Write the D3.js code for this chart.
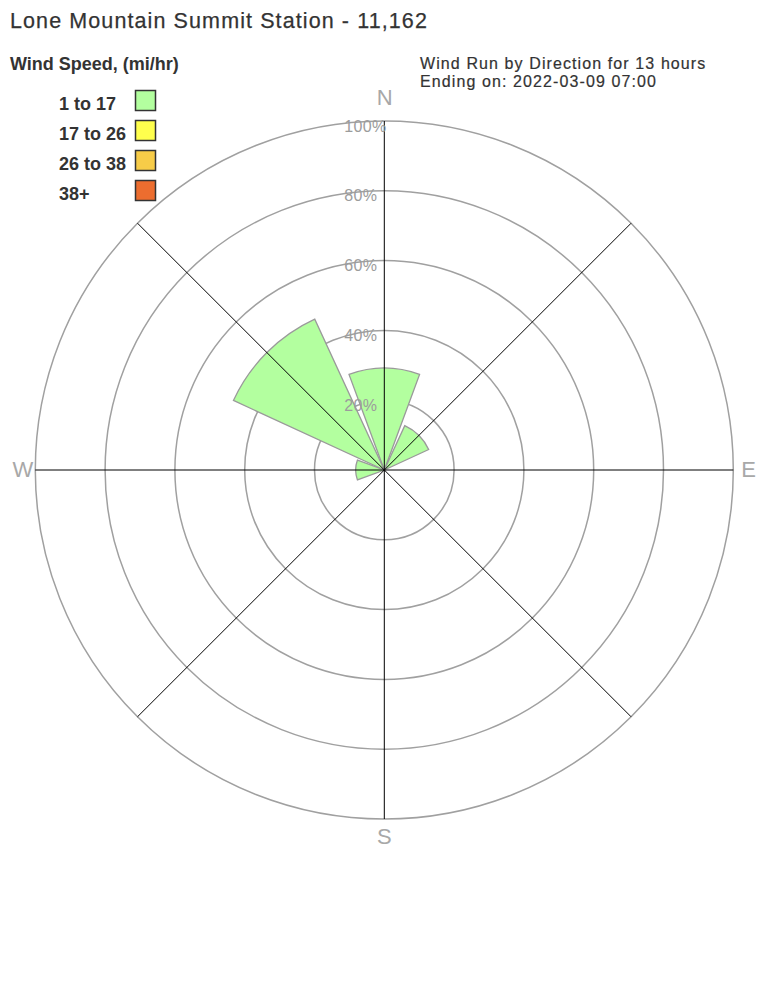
<!DOCTYPE html>
<html><head><meta charset="utf-8">
<script src="https://cdn.jsdelivr.net/npm/d3@7"></script>
<style>body{margin:0;background:#fff}svg{display:block}text{font-family:"Liberation Sans",Arial,sans-serif}</style>
</head><body>
<svg id="c" width="768" height="1008"></svg>
<script>
const directions = ["N","NE","E","SE","S","SW","W","NW"];
const speedBins = ["1 to 17","17 to 26","26 to 38","38+"];
const binColors = ["#b3ff9f","#ffff4d","#f7cc48","#ec6d2f"];
const bin1 = [29.2,14.0,0,0,0,0,8.2,47.6];
const bin2 = [0,0,0,0,0,0,0,0];
const bin3 = [0,0,0,0,0,0,0,0];
const bin4 = [0,0,0,0,0,0,0,0];
const ringTicks = [20,40,60,80,100];
const ringLabels = ["20%","40%","60%","80%","100%"];
const compass = ["N","E","S","W"];

const svg = d3.select("#c");
const cx = 384.3, cy = 470, R = 349;
const r = d3.scaleLinear().domain([0,100]).range([0,R]);
const step = 2*Math.PI/directions.length;
const halfW = step*0.45;

const g = svg.append("g").attr("transform",`translate(${cx},${cy})`);

// rings
g.selectAll("circle.ring").data(ringTicks).join("circle")
  .attr("r",d=>r(d)).attr("fill","none").attr("stroke","#a0a0a0").attr("stroke-width",1.5);

// petals stacked
const series = [bin1,bin2,bin3,bin4];
const arc = d3.arc();
directions.forEach((dir,i)=>{
  let base = 0;
  const a = i*step;
  series.forEach((s,k)=>{
    const v = s[i];
    if(v>0){
      g.append("path").attr("d",arc({innerRadius:r(base),outerRadius:r(base+v),startAngle:a-halfW,endAngle:a+halfW}))
        .attr("fill",binColors[k]).attr("stroke","#9a9a9a").attr("stroke-width",1.3);
    }
    base += v;
  });
});

// spokes
directions.forEach((d,i)=>{
  const a = i*step;
  g.append("line").attr("x1",0).attr("y1",0)
   .attr("x2",R*Math.sin(a)).attr("y2",-R*Math.cos(a))
   .attr("stroke","#000").attr("stroke-width",1);
});

// ring labels
g.selectAll("text.rl").data(ringTicks).join("text")
  .attr("x",-40).attr("y",d=>-r(d)+10.5)
  .attr("font-size",16).attr("letter-spacing",0.3).attr("fill","#9c9c9c").text((d,i)=>ringLabels[i]);

// compass labels
const cpos = {N:[0.4,-365,"middle"],E:[357,7,"start"],S:[0,374,"middle"],W:[-351,7,"end"]};
compass.forEach(c=>{
  g.append("text").attr("x",cpos[c][0]).attr("y",cpos[c][1]).attr("text-anchor",cpos[c][2])
   .attr("font-size",22).attr("fill","#a8a8a8").text(c);
});

// title
svg.append("text").attr("x",10).attr("y",28).attr("font-size",21.5).attr("letter-spacing",1.1)
  .attr("fill","#333").attr("stroke","#333").attr("stroke-width",0.25).text("Lone Mountain Summit Station - 11,162");
svg.append("text").attr("x",10).attr("y",70).attr("font-size",18).attr("font-weight","bold")
  .attr("fill","#333").text("Wind Speed, (mi/hr)");
svg.append("text").attr("x",420).attr("y",69).attr("font-size",16).attr("letter-spacing",1.1)
  .attr("fill","#333").attr("stroke","#333").attr("stroke-width",0.2).text("Wind Run by Direction for 13 hours");
svg.append("text").attr("x",420).attr("y",87).attr("font-size",16).attr("letter-spacing",1.1)
  .attr("fill","#333").attr("stroke","#333").attr("stroke-width",0.2).text("Ending on: 2022-03-09 07:00");

// legend
const lg = svg.append("g");
speedBins.forEach((b,i)=>{
  lg.append("text").attr("x",59).attr("y",110+i*30).attr("font-size",18).attr("font-weight","bold")
    .attr("fill","#333").text(b);
  lg.append("rect").attr("x",135.5).attr("y",90.5+i*30).attr("width",20).attr("height",20)
    .attr("fill",binColors[i]).attr("stroke","#333").attr("stroke-width",1.5);
});
</script>
</body></html>
